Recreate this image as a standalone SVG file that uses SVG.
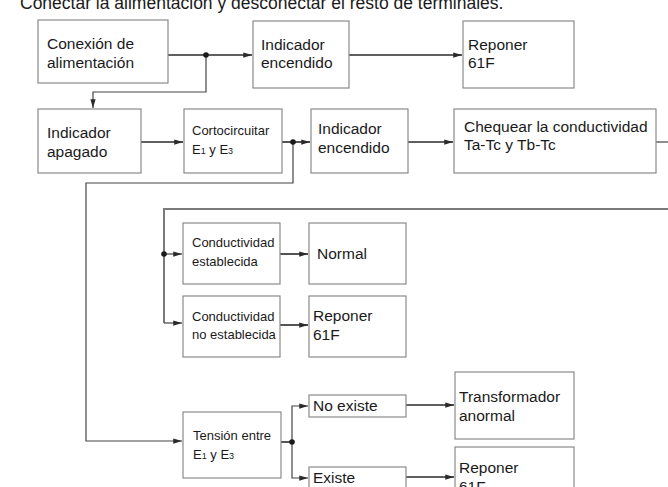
<svg xmlns="http://www.w3.org/2000/svg" width="668" height="487" viewBox="0 0 668 487">
  <style>
    .box { fill: #ffffff; stroke: #8a8a8a; stroke-width: 1.2; }
    .t { font-family: "Liberation Sans", Arial, sans-serif; font-size: 15.5px; fill: #1a1a1a; }
    .s { font-family: "Liberation Sans", Arial, sans-serif; font-size: 13px; fill: #1a1a1a; }
    .sub { font-size: 9px; }
    .title { font-family: "Liberation Sans", Arial, sans-serif; font-size: 17.5px; fill: #1a1a1a; }
    .c { fill: none; stroke: #2a2a2a; stroke-width: 1.6; }
    .thin { fill: none; stroke: #444; stroke-width: 1.2; }
    .feed { fill: none; stroke: #7a7a7a; stroke-width: 2; }
    .dot { fill: #1a1a1a; }
  </style>
  <defs>
    <marker id="arr" viewBox="0 0 10 8" refX="10" refY="4" markerWidth="10" markerHeight="7" markerUnits="userSpaceOnUse" orient="auto">
      <path d="M0,1 L10,4 L0,7 Z" fill="#2a2a2a"/>
    </marker>
  </defs>

  <rect width="668" height="487" fill="#ffffff"/>

  <text class="title" x="20" y="9">Conectar la alimentación y desconectar el resto de terminales.</text>

  <!-- connectors -->
  <g id="connectors">
    <path class="c" d="M168,55 H252" marker-end="url(#arr)"/>
    <path class="thin" d="M206,55 V92 H93 V108" marker-end="url(#arr)"/>
    <path class="c" d="M349,55 H462" marker-end="url(#arr)"/>
    <path class="c" d="M141,142 H183" marker-end="url(#arr)"/>
    <path class="c" d="M282,142 H310" marker-end="url(#arr)"/>
    <path class="thin" d="M293,142 V183 H86 V441 H182" marker-end="url(#arr)"/>
    <path class="c" d="M408,142 H453" marker-end="url(#arr)"/>
    <path class="thin" d="M656,142 H668"/>
    <path class="feed" d="M668,209 H164 V323"/>
    <path class="thin" d="M164,254 H182" marker-end="url(#arr)"/>
    <path class="thin" d="M164,323 H182" marker-end="url(#arr)"/>
    <path class="c" d="M280,254 H308" marker-end="url(#arr)"/>
    <path class="c" d="M280,325 H308" marker-end="url(#arr)"/>
    <path class="c" d="M281,442 H292"/>
    <path class="thin" d="M292,442 V406 H308" marker-end="url(#arr)"/>
    <path class="thin" d="M292,442 V478 H308" marker-end="url(#arr)"/>
    <path class="c" d="M406,405 H454" marker-end="url(#arr)"/>
    <path class="c" d="M406,477 H454" marker-end="url(#arr)"/>
    <circle class="dot" cx="206" cy="55" r="2.8"/>
    <circle class="dot" cx="293" cy="142" r="2.8"/>
    <circle class="dot" cx="164" cy="254" r="2.8"/>
    <circle class="dot" cx="292" cy="442" r="2.8"/>
  </g>

  <g id="conexion">
    <rect class="box" x="38" y="20" width="130" height="63"/>
    <text class="t" x="47" y="49">Conexión de</text>
    <text class="t" x="47" y="68">alimentación</text>
  </g>
  <g id="indicador-encendido-1">
    <rect class="box" x="253" y="21" width="96" height="67"/>
    <text class="t" x="261" y="50">Indicador</text>
    <text class="t" x="261" y="68">encendido</text>
  </g>
  <g id="reponer-1">
    <rect class="box" x="463" y="21" width="111" height="67"/>
    <text class="t" x="468" y="50">Reponer</text>
    <text class="t" x="468" y="68">61F</text>
  </g>

  <g id="indicador-apagado">
    <rect class="box" x="38" y="109" width="103" height="64"/>
    <text class="t" x="47" y="138">Indicador</text>
    <text class="t" x="47" y="157">apagado</text>
  </g>
  <g id="cortocircuitar">
    <rect class="box" x="184" y="109" width="98" height="64"/>
    <text class="s" x="192" y="135">Cortocircuitar</text>
    <text class="s" x="192" y="154">E<tspan class="sub">1</tspan> y E<tspan class="sub">3</tspan></text>
  </g>
  <g id="indicador-encendido-2">
    <rect class="box" x="311" y="109" width="97" height="64"/>
    <text class="t" x="318" y="134">Indicador</text>
    <text class="t" x="318" y="153">encendido</text>
  </g>
  <g id="chequear">
    <rect class="box" x="454" y="109" width="202" height="64"/>
    <text class="t" x="464" y="132">Chequear la conductividad</text>
    <text class="t" x="464" y="150">Ta-Tc y Tb-Tc</text>
  </g>

  <g id="cond-establecida">
    <rect class="box" x="183" y="223" width="97" height="61"/>
    <text class="s" x="192" y="247">Conductividad</text>
    <text class="s" x="192" y="266">establecida</text>
  </g>
  <g id="normal">
    <rect class="box" x="309" y="223" width="97" height="61"/>
    <text class="t" x="317" y="259">Normal</text>
  </g>
  <g id="cond-no-establecida">
    <rect class="box" x="183" y="296" width="97" height="61"/>
    <text class="s" x="192" y="321">Conductividad</text>
    <text class="s" x="192" y="339">no establecida</text>
  </g>
  <g id="reponer-2">
    <rect class="box" x="309" y="296" width="97" height="61"/>
    <text class="t" x="313" y="321">Reponer</text>
    <text class="t" x="313" y="340">61F</text>
  </g>

  <g id="tension">
    <rect class="box" x="183" y="412" width="98" height="66"/>
    <text class="s" x="193" y="440">Tensión entre</text>
    <text class="s" x="193" y="459">E<tspan class="sub">1</tspan> y E<tspan class="sub">3</tspan></text>
  </g>
  <g id="no-existe">
    <rect class="box" x="309" y="395" width="97" height="22"/>
    <text class="t" x="313" y="411">No existe</text>
  </g>
  <g id="existe">
    <rect class="box" x="309" y="467" width="97" height="24"/>
    <text class="t" x="313" y="483">Existe</text>
  </g>
  <g id="transformador">
    <rect class="box" x="455" y="372" width="119" height="67"/>
    <text class="t" x="459" y="402">Transformador</text>
    <text class="t" x="459" y="421">anormal</text>
  </g>
  <g id="reponer-3">
    <rect class="box" x="455" y="447" width="119" height="60"/>
    <text class="t" x="459" y="473">Reponer</text>
    <text class="t" x="459" y="492">61F</text>
  </g>
</svg>
